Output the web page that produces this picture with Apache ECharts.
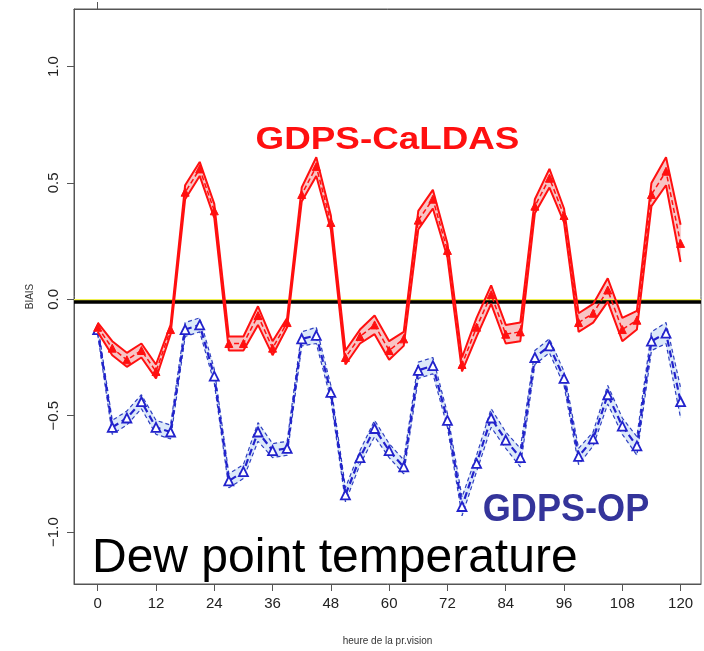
<!DOCTYPE html>
<html>
<head>
<meta charset="utf-8">
<script src="https://cdn.jsdelivr.net/npm/echarts@6/dist/echarts.min.js"></script>
<style>html,body{margin:0;padding:0;background:#fff}#c{width:704px;height:651px}</style>
</head>
<body>
<div id="c"></div>
<script>
// forecast hours
const hours = [0,3,6,9,12,15,18,21,24,27,30,33,36,39,42,45,48,51,54,57,60,63,66,69,72,75,78,81,84,87,90,93,96,99,102,105,108,111,114,117,120];
// GDPS-CaLDAS bias (mean, lower, upper)
const caldasMean = [-0.12,-0.21,-0.26,-0.22,-0.31,-0.13,0.46,0.56,0.38,-0.19,-0.19,-0.07,-0.21,-0.10,0.45,0.57,0.33,-0.25,-0.16,-0.11,-0.22,-0.17,0.34,0.43,0.21,-0.28,-0.12,0.02,-0.15,-0.14,0.40,0.52,0.36,-0.10,-0.06,0.04,-0.13,-0.09,0.45,0.55,0.24];
const caldasLow  = [-0.14,-0.24,-0.29,-0.25,-0.34,-0.15,0.43,0.53,0.35,-0.22,-0.22,-0.11,-0.24,-0.12,0.42,0.53,0.30,-0.28,-0.19,-0.15,-0.26,-0.20,0.30,0.39,0.18,-0.31,-0.16,-0.02,-0.19,-0.18,0.37,0.48,0.33,-0.14,-0.10,-0.01,-0.18,-0.13,0.40,0.49,0.16];
const caldasHigh = [-0.10,-0.18,-0.23,-0.19,-0.28,-0.11,0.49,0.59,0.41,-0.16,-0.16,-0.03,-0.18,-0.08,0.48,0.61,0.36,-0.22,-0.13,-0.07,-0.18,-0.14,0.38,0.47,0.24,-0.25,-0.08,0.06,-0.11,-0.10,0.43,0.56,0.39,-0.06,-0.02,0.09,-0.08,-0.05,0.50,0.61,0.32];
// GDPS-OP bias (mean, lower, upper)
const opMean = [-0.13,-0.55,-0.51,-0.44,-0.55,-0.57,-0.13,-0.11,-0.33,-0.78,-0.74,-0.57,-0.65,-0.64,-0.17,-0.155,-0.40,-0.84,-0.68,-0.555,-0.65,-0.72,-0.305,-0.285,-0.52,-0.89,-0.705,-0.51,-0.605,-0.68,-0.25,-0.20,-0.34,-0.675,-0.60,-0.41,-0.545,-0.63,-0.18,-0.145,-0.44];
const opLow  = [-0.15,-0.58,-0.54,-0.47,-0.58,-0.60,-0.16,-0.14,-0.36,-0.81,-0.77,-0.61,-0.68,-0.67,-0.20,-0.19,-0.43,-0.87,-0.71,-0.59,-0.68,-0.75,-0.34,-0.32,-0.55,-0.93,-0.74,-0.55,-0.64,-0.72,-0.28,-0.23,-0.37,-0.71,-0.63,-0.45,-0.58,-0.67,-0.22,-0.19,-0.51];
const opHigh = [-0.11,-0.52,-0.48,-0.41,-0.52,-0.54,-0.10,-0.08,-0.30,-0.75,-0.71,-0.53,-0.62,-0.61,-0.14,-0.12,-0.37,-0.81,-0.65,-0.52,-0.62,-0.69,-0.27,-0.25,-0.49,-0.85,-0.67,-0.47,-0.57,-0.64,-0.22,-0.17,-0.31,-0.64,-0.57,-0.37,-0.51,-0.59,-0.14,-0.10,-0.38];
// tick values
const xTicks = [0,12,24,36,48,60,72,84,96,108,120];
const yTicks = [-1.0,-0.5,0.0,0.5,1.0];
const topTicks = [0];

const pair = (arr) => hours.map((h,i) => [h, arr[i]]);
// band segments: [h0, lo0, hi0, h1, lo1, hi1]
const segs = (lo, hi) => hours.slice(0, -1).map((h,i) => [h, lo[i], hi[i], hours[i+1], lo[i+1], hi[i+1]]);

function bandSeries(lo, hi, fill, z) {
  return {
    type: 'custom', data: segs(lo, hi), z: z, silent: true,
    encode: {x: [0, 3], y: [1, 2, 4, 5]},
    renderItem: function (params, api) {
      const a = api.coord([api.value(0), api.value(1)]);
      const b = api.coord([api.value(3), api.value(4)]);
      const c = api.coord([api.value(3), api.value(5)]);
      const d = api.coord([api.value(0), api.value(2)]);
      return {type: 'polygon', shape: {points: [a, b, c, d]},
        style: {fill: fill, stroke: fill, lineWidth: 0.6}};
    }
  };
}

const FONT = 'Liberation Sans, Arial, sans-serif';
const RED = '#ff1010';
const BLUE = '#2222cc';

const chart = echarts.init(document.getElementById('c'), null, {renderer:'canvas'});
chart.setOption({
  animation: false,
  backgroundColor: '#ffffff',
  grid: {left: 74, right: 3, top: 9, bottom: 58, show: true, borderColor: '#555', borderWidth: 1, backgroundColor: 'transparent'},
  xAxis: [{
    type: 'value', min: -4.88, max: 124.2,
    name: 'heure de la pr.vision', nameLocation: 'middle', nameGap: 52,
    nameTextStyle: {fontFamily: FONT, fontSize: 10, color: '#333'},
    axisLine: {show: true, onZero: false, lineStyle: {color: '#555', width: 1}},
    axisTick: {show: true, inside: false, length: 7, lineStyle: {color: '#555'}, customValues: xTicks},
    axisLabel: {fontFamily: FONT, fontSize: 15, color: '#222', margin: 12, customValues: xTicks},
    splitLine: {show: false}
  }, {
    type: 'value', position: 'top', min: -4.88, max: 124.2,
    axisLine: {show: true, onZero: false, lineStyle: {color: '#555', width: 1}},
    axisTick: {show: true, inside: false, length: 7, lineStyle: {color: '#555'}, customValues: topTicks},
    axisLabel: {show: false},
    splitLine: {show: false}
  }],
  yAxis: {
    type: 'value', min: -1.223, max: 1.247,
    name: 'BIAIS', nameLocation: 'middle', nameGap: 39,
    nameTextStyle: {fontFamily: FONT, fontSize: 10, color: '#333'},
    axisLine: {show: true, onZero: false, lineStyle: {color: '#555', width: 1}},
    axisTick: {show: true, inside: false, length: 7, lineStyle: {color: '#555'}, customValues: yTicks},
    axisLabel: {fontFamily: FONT, fontSize: 15, color: '#222', margin: 13, rotate: 90, customValues: yTicks,
      formatter: v => (v < 0 ? '\u2212' : '') + Math.abs(v).toFixed(1)},
    splitLine: {show: false}
  },
  series: [
    // OP band
    bandSeries(opLow, opHigh, '#dce9f9', 1),
    {type: 'line', data: pair(opLow), symbol: 'none', lineStyle: {color: '#3040c0', width: 1.2, type: [4,3]}, z: 2},
    {type: 'line', data: pair(opHigh), symbol: 'none', lineStyle: {color: '#3040c0', width: 1.2, type: [4,3]}, z: 2},
    {type: 'line', data: pair(opMean), symbol: 'triangle', symbolSize: 9, showSymbol: true,
      itemStyle: {color: '#ffffff', borderColor: BLUE, borderWidth: 1.8},
      lineStyle: {color: BLUE, width: 2.2, type: [7,4]}, z: 3},
    // CaLDAS band
    bandSeries(caldasLow, caldasHigh, '#f8c4c4', 4),
    {type: 'line', data: pair(caldasLow), symbol: 'none', lineStyle: {color: RED, width: 2}, z: 5},
    {type: 'line', data: pair(caldasHigh), symbol: 'none', lineStyle: {color: RED, width: 2}, z: 5},
    {type: 'line', data: pair(caldasMean), symbol: 'triangle', symbolSize: 8, showSymbol: true,
      itemStyle: {color: RED, borderColor: RED, borderWidth: 1},
      lineStyle: {color: RED, width: 1.5, type: [5,3]}, z: 6,
      markLine: {
        silent: true, symbol: 'none', label: {show: false}, animation: false,
        data: [
          {yAxis: 0.004, lineStyle: {color: '#f0f050', width: 2, type: 'solid'}},
          {yAxis: -0.011, lineStyle: {color: '#000000', width: 3.5, type: 'solid'}}
        ]
      }}
  ],
  graphic: [
    {type: 'text', x: 387.5, y: 140, scaleX: 1.15, z: 100,
      style: {text: 'GDPS-CaLDAS', fill: RED, font: 'bold 32px ' + FONT, textAlign: 'center', textVerticalAlign: 'middle'}},
    {type: 'text', x: 566, y: 511, scaleX: 0.95, z: 100,
      style: {text: 'GDPS-OP', fill: '#34349a', font: 'bold 38px ' + FONT, textAlign: 'center', textVerticalAlign: 'middle'}},
    {type: 'text', x: 92, y: 559, z: 100,
      style: {text: 'Dew point temperature', fill: '#000', font: '48px ' + FONT, textAlign: 'left', textVerticalAlign: 'middle'}}
  ]
});
</script>
</body>
</html>
